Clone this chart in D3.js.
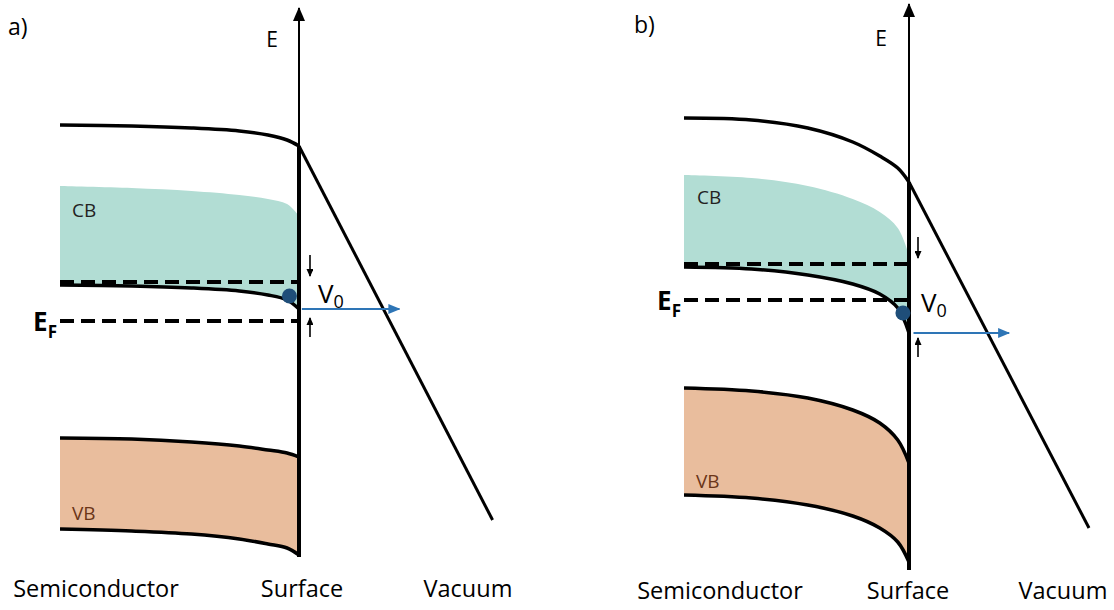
<!DOCTYPE html>
<html>
<head>
<meta charset="utf-8">
<script src="https://cdn.jsdelivr.net/npm/d3@7"></script>
<style>
  body { margin: 0; background: #fff; }
  svg { display: block; font-family: "Open Sans", sans-serif; }
</style>
</head>
<body>
<div id="chart"></div>
<script>
// depth into the semiconductor: 0 = bulk (left), 1 = surface, > 1 = vacuum
const depth = [0, 0.3, 0.55, 0.75, 0.87, 0.95, 1];

// energies (arbitrary units, higher = up)
// panel a) : weak band bending
const topA   = [475, 474, 472, 469, 465, 460, 454];
const cbTopA = [414, 412, 409, 405, 401, 396, 384];
const cbmA   = [315, 314, 312, 309, 305, 300, 291];
const vbTopA = [162, 161, 158, 154, 150, 147, 143];
const vbBotA = [71, 69, 66, 61, 56, 52, 45];
const levelsA = [318, 279];          // dashed: band edge in bulk, Fermi level
const vacuumA = [[1, 454], [1.81, 80]];

// panel b) : strong band bending
const topB   = [482, 480, 472, 458, 444, 432, 418];
const cbTopB = [425, 422, 414, 401, 388, 372, 345];
const cbmB   = [333, 331, 325, 316, 306, 292, 267];
const vbTopB = [212, 209, 202, 190, 177, 160, 137];
const vbBotB = [105, 102, 95, 84, 72, 58, 38];
const levelsB = [336, 300];
const vacuumB = [[1, 418], [1.8, 72]];

const regionLabels = ["Semiconductor", "Surface", "Vacuum"];

const width = 1114, height = 610;
const energy = d3.scaleLinear().domain([0, 600]).range([600, 0]);

const panels = [
    { name: "a)", x: d3.scaleLinear().domain([0, 1]).range([60, 299]),
      top: topA, cbTop: cbTopA, cbm: cbmA, vbTop: vbTopA, vbBot: vbBotA,
      levels: levelsA, vacuum: vacuumA, axisTop: 592, axisBottom: 43,
      dot: [0.96, 304], v0: [345, 324, 263, 282], v0x: 1.046, emit: [291, 1.012, 1.42],
      nameX: 8, nameY: 35, eX: 272, eY: 47, efY: 331, v0Label: [318, 303],
      cbLab: [72, 217], vbLab: [72, 520], labX: [96, 302, 468], labY: 597 },
    { name: "b)", x: d3.scaleLinear().domain([0, 1]).range([684, 909]),
      top: topB, cbTop: cbTopB, cbm: cbmB, vbTop: vbTopB, vbBot: vbBotB,
      levels: levelsB, vacuum: vacuumB, axisTop: 596, axisBottom: 30,
      dot: [0.973, 287], v0: [363, 342, 243, 262], v0x: 1.04, emit: [267, 1.02, 1.445],
      nameX: 634, nameY: 33, eX: 881, eY: 46, efY: 310, v0Label: [921, 312],
      cbLab: [697, 204], vbLab: [696, 488], labX: [720, 908, 1063], labY: 599 }
];

const svg = d3.select("#chart").append("svg")
    .attr("width", width)
    .attr("height", height);

// arrow heads
const defs = svg.append("defs");
const marker = (id, w, l, color) => defs.append("marker")
    .attr("id", id)
    .attr("viewBox", `0 ${-w / 2} ${l} ${w}`)
    .attr("refX", l - 1).attr("refY", 0)
    .attr("markerWidth", l).attr("markerHeight", w)
    .attr("markerUnits", "userSpaceOnUse")
    .attr("orient", "auto")
    .append("path")
    .attr("d", `M0,${-w / 2}L${l},0L0,${w / 2}Z`)
    .attr("fill", color);
marker("axisHead", 12, 14, "#000");
marker("smallHead", 7, 8, "#000");
marker("blueHead", 10, 12, "#2e75b6");

panels.forEach(p => {
    const x = p.x;
    const g = svg.append("g");
    const curve = d3.curveCatmullRom.alpha(0.5);
    const line = d3.line().x(d => x(d[0])).y(d => energy(d[1])).curve(curve);
    const area = d3.area().x(d => x(d[0])).y0(d => energy(d[2])).y1(d => energy(d[1])).curve(curve);
    const zip = vals => depth.map((d, i) => [d, vals[i]]);
    const xs = x(1);

    // filled bands
    g.append("path")
        .attr("d", area(depth.map((d, i) => [d, p.cbTop[i], p.cbm[i]])))
        .attr("fill", "#b2ddd4");
    g.append("path")
        .attr("d", area(depth.map((d, i) => [d, p.vbTop[i], p.vbBot[i]])))
        .attr("fill", "#e9bd9d");

    // band curves
    [p.top, p.cbm, p.vbTop, p.vbBot].forEach(vals => {
        g.append("path")
            .attr("d", line(zip(vals)))
            .attr("fill", "none")
            .attr("stroke", "#000")
            .attr("stroke-width", 3.5);
    });

    // dashed levels
    p.levels.forEach(e => {
        g.append("line")
            .attr("x1", x(0)).attr("x2", xs)
            .attr("y1", energy(e)).attr("y2", energy(e))
            .attr("stroke", "#000")
            .attr("stroke-width", 4)
            .attr("stroke-dasharray", "14,7");
    });

    // vacuum level
    g.append("line")
        .attr("x1", x(p.vacuum[0][0])).attr("y1", energy(p.vacuum[0][1]))
        .attr("x2", x(p.vacuum[1][0])).attr("y2", energy(p.vacuum[1][1]))
        .attr("stroke", "#000")
        .attr("stroke-width", 3);

    // energy axis and surface
    g.append("line")
        .attr("x1", xs).attr("x2", xs)
        .attr("y1", energy(p.axisBottom)).attr("y2", energy(p.axisTop))
        .attr("stroke", "#000")
        .attr("stroke-width", 2)
        .attr("marker-end", "url(#axisHead)");
    g.append("line")
        .attr("x1", xs).attr("x2", xs)
        .attr("y1", energy(p.top[p.top.length - 1])).attr("y2", energy(p.axisBottom))
        .attr("stroke", "#000")
        .attr("stroke-width", 4);

    // V0 arrows
    const ax = x(p.v0x);
    [[p.v0[0], p.v0[1]], [p.v0[2], p.v0[3]]].forEach(([from, to]) => {
        g.append("line")
            .attr("x1", ax).attr("x2", ax)
            .attr("y1", energy(from)).attr("y2", energy(to))
            .attr("stroke", "#000")
            .attr("stroke-width", 1.6)
            .attr("marker-end", "url(#smallHead)");
    });

    // emission arrow
    g.append("line")
        .attr("x1", x(p.emit[1])).attr("x2", x(p.emit[2]))
        .attr("y1", energy(p.emit[0])).attr("y2", energy(p.emit[0]))
        .attr("stroke", "#2e75b6")
        .attr("stroke-width", 2)
        .attr("marker-end", "url(#blueHead)");

    // electron
    g.append("circle")
        .attr("cx", x(p.dot[0])).attr("cy", energy(p.dot[1]))
        .attr("r", 7.5)
        .attr("fill", "#1f4e79");

    // texts
    g.append("text").attr("x", p.nameX).attr("y", p.nameY)
        .attr("font-size", 23).text(p.name);
    g.append("text").attr("x", p.eX).attr("y", p.eY)
        .attr("text-anchor", "middle").attr("font-size", 21).text("E");
    g.append("text").attr("x", p.cbLab[0]).attr("y", p.cbLab[1])
        .attr("font-size", 19).attr("fill", "#222").text("CB");
    g.append("text").attr("x", p.vbLab[0]).attr("y", p.vbLab[1])
        .attr("font-size", 19).attr("fill", "#6b3518").text("VB");

    const ef = g.append("text").attr("x", x(0) - 3).attr("y", p.efY)
        .attr("text-anchor", "end").attr("font-weight", "bold").attr("font-size", 26);
    ef.append("tspan").text("E");
    ef.append("tspan").attr("dy", 7).attr("font-size", 17).text("F");

    const v0 = g.append("text").attr("x", p.v0Label[0]).attr("y", p.v0Label[1])
        .attr("font-size", 26);
    v0.append("tspan").text("V");
    v0.append("tspan").attr("dy", 5).attr("font-size", 18).text("0");

    regionLabels.forEach((t, i) => {
        g.append("text")
            .attr("x", p.labX[i]).attr("y", p.labY)
            .attr("text-anchor", "middle")
            .attr("font-size", 23.5)
            .text(t);
    });
});
</script>
</body>
</html>
